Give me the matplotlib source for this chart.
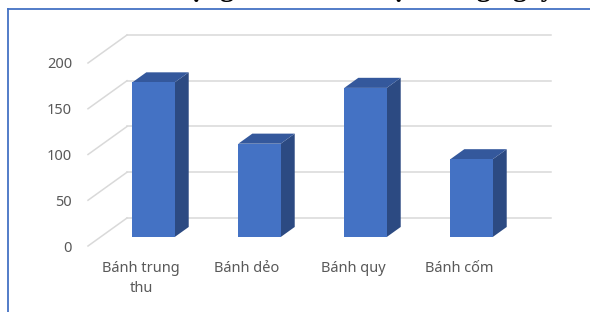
import matplotlib
matplotlib.use("Agg")
import matplotlib.pyplot as plt
from matplotlib.lines import Line2D

# ---- data ----
categories = ["Bánh trung\nthu", "Bánh dẻo", "Bánh quy", "Bánh cốm"]
values = [169, 102, 163, 85]
y_ticks = [0, 50, 100, 150, 200]
title = "Biểu đồ số lượng bánh bán được trong ngày"

plt.rcParams['font.family'] = ['Noto Sans', 'DejaVu Sans']

W, H = 590, 312
fig = plt.figure(figsize=(W / 100, H / 100), dpi=100)
fig.patch.set_facecolor("white")

# front plane of the 3D box
ax = fig.add_axes([88 / W, 66 / H, 424 / W, 183 / H])
ax.set_xlim(-0.5, len(categories) - 0.5)
ax.set_ylim(0, 200)
for s in ax.spines.values():
    s.set_visible(False)
ax.patch.set_alpha(0)

# oblique depth offset (data units for full depth)
DX = 39 / 106
DY = 28 / 0.915

def proj(x, v, d):
    return x + d * DX, v + d * DY

grid_c = "#D9D9D9"
x0, x1 = -0.5, len(categories) - 0.5
for v in y_ticks:
    a = proj(x0, v, 1)
    b = proj(x1, v, 1)
    ax.plot([a[0], b[0]], [a[1], b[1]], color=grid_c, lw=1.1, clip_on=False, zorder=1)
    c = proj(x0, v, 0)
    ax.plot([c[0], a[0]], [c[1], a[1]], color=grid_c, lw=1.1, clip_on=False, zorder=1)

front_c = "#4472C4"
side_c = "#2C4A82"
top_c = "#34589C"
bw = 0.4
d0, d1 = 0.32, 0.68
for i, val in enumerate(values):
    L, R = i - bw / 2, i + bw / 2
    pts = [proj(R, 0, d0), proj(R, 0, d1), proj(R, val, d1), proj(R, val, d0)]
    ax.fill([p[0] for p in pts], [p[1] for p in pts], color=side_c, lw=0, clip_on=False, zorder=3)
    pts = [proj(L, val, d0), proj(R, val, d0), proj(R, val, d1), proj(L, val, d1)]
    ax.fill([p[0] for p in pts], [p[1] for p in pts], color=top_c, lw=0, clip_on=False, zorder=3)
    pts = [proj(L, 0, d0), proj(R, 0, d0), proj(R, val, d0), proj(L, val, d0)]
    ax.fill([p[0] for p in pts], [p[1] for p in pts], color=front_c, lw=0, clip_on=False, zorder=4)

ax.set_yticks(y_ticks)
ax.set_yticklabels([str(t) for t in y_ticks])
ax.set_xticks(range(len(categories)))
ax.set_xticklabels(categories, linespacing=1.45)
ax.tick_params(axis='y', length=0, pad=11.5, labelsize=10.5, labelcolor="#595959")
ax.tick_params(axis='x', length=0, pad=10.5, labelsize=10.5, labelcolor="#595959")

# outer frame (blue border)
bc = "#4472C4"
fig.add_artist(Line2D([8 / W, 1.0], [1 - 9 / H, 1 - 9 / H], color=bc, lw=1.3, transform=fig.transFigure))
fig.add_artist(Line2D([8 / W, 8 / W], [0, 1 - 9 / H], color=bc, lw=1.3, transform=fig.transFigure))

# title cut off at top of image (only descenders visible, as in the reference)
fig.text(0.5, 1.0 + 3.5 / H, title, ha='center', va='baseline', fontsize=20,
         fontweight='bold', family=['Liberation Serif', 'DejaVu Serif'])

fig.savefig("out.png", dpi=100, facecolor="white")
